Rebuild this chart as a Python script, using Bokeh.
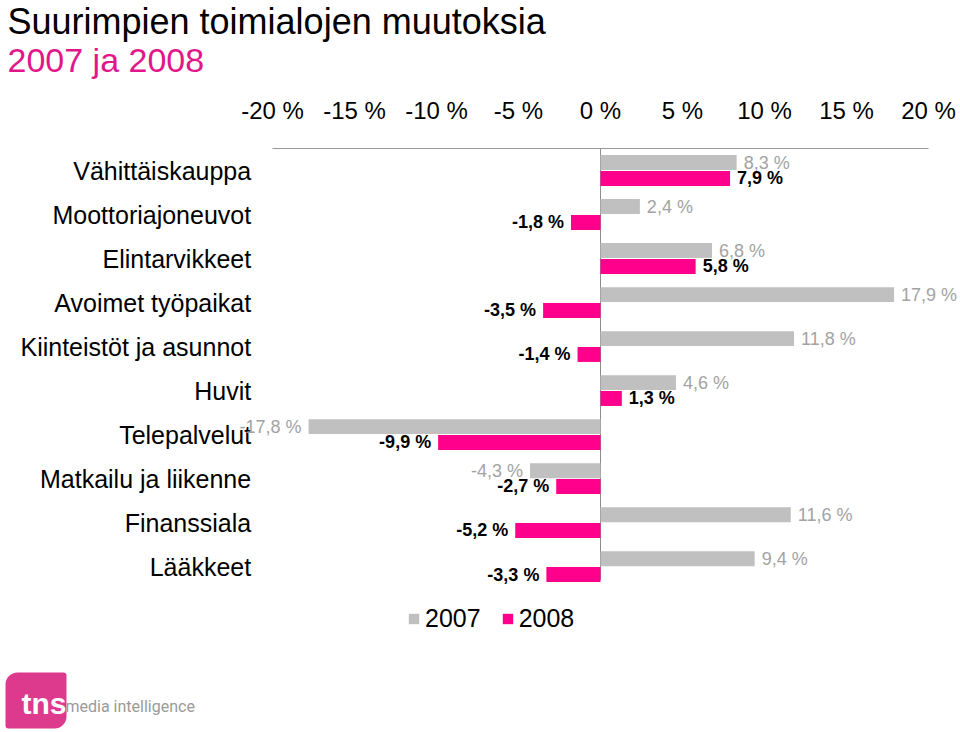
from bokeh.plotting import figure
from bokeh.layouts import column
from bokeh.models import (ColumnDataSource, FixedTicker, PrintfTickFormatter, Range1d,
                          Label, Legend, LegendItem)
from bokeh.core.properties import value
from bokeh.embed import file_html
from bokeh.resources import INLINE

# ---------------- data ----------------
categories = ["Vähittäiskauppa", "Moottoriajoneuvot", "Elintarvikkeet", "Avoimet työpaikat",
              "Kiinteistöt ja asunnot", "Huvit", "Telepalvelut", "Matkailu ja liikenne",
              "Finanssiala", "Lääkkeet"]
change_2007 = [8.3, 2.4, 6.8, 17.9, 11.8, 4.6, -17.8, -4.3, 11.6, 9.4]
change_2008 = [7.9, -1.8, 5.8, -3.5, -1.4, 1.3, -9.9, -2.7, -5.2, -3.3]
x_ticks = [-20, -15, -10, -5, 0, 5, 10, 15, 20]
series_names = ["2007", "2008"]
title_text = "Suurimpien toimialojen muutoksia"
subtitle_text = "2007 ja 2008"

GRAY = "#C0C0C0"
PINK = "#FF008C"
FONT = "Liberation Sans"
CAT_LABEL_X = -21.3   # where the category names end (data units)


def fmt(v):
    return f"{v:.1f}".replace(".", ",") + " %"


n = len(categories)
rows = list(range(n))
src = ColumnDataSource(dict(
    y07=[r - 0.18 for r in rows],
    y08=[r + 0.18 for r in rows],
    v07=change_2007,
    v08=change_2008,
    lab07=[fmt(v) for v in change_2007],
    lab08=[fmt(v) for v in change_2008],
    al07=["left" if v >= 0 else "right" for v in change_2007],
    al08=["left" if v >= 0 else "right" for v in change_2008],
    off07=[7 if v >= 0 else -7 for v in change_2007],
    off08=[7 if v >= 0 else -7 for v in change_2008],
))
cat_src = ColumnDataSource(dict(y=rows, name=categories, x=[CAT_LABEL_X] * n))

W = 960
H_TOP = 93
H_MAIN = 732 - H_TOP

# ---------- heading strip ----------
head = figure(width=W, height=H_TOP, output_backend="svg", toolbar_location=None,
              x_range=Range1d(0, W), y_range=Range1d(0, H_TOP),
              min_border_left=0, min_border_right=0, min_border_top=0, min_border_bottom=0,
              outline_line_color=None, background_fill_color="white", border_fill_color="white")
head.xaxis.visible = False
head.yaxis.visible = False
head.xgrid.visible = False
head.ygrid.visible = False
head.add_layout(Label(x=7, y=93, x_units="screen", y_units="screen", text=title_text,
                      text_font=FONT, text_font_size="36px", text_color="black",
                      text_align="left", text_baseline="top"))
head.add_layout(Label(x=7, y=53, x_units="screen", y_units="screen", text=subtitle_text,
                      text_font=FONT, text_font_size="34px", text_color="#E2168A",
                      text_align="left", text_baseline="top"))

# ---------- main chart ----------
p = figure(width=W, height=H_MAIN, output_backend="svg", toolbar_location=None,
           x_range=Range1d(-36.585, 21.95), y_range=Range1d(12.77, -0.5),
           x_axis_location="above",
           min_border_left=0, min_border_right=0, min_border_top=55, min_border_bottom=0,
           outline_line_color=None, background_fill_color="white", border_fill_color="white")

p.xgrid.visible = False
p.ygrid.visible = False
p.yaxis.visible = False

xa = p.xaxis[0]
xa.ticker = FixedTicker(ticks=x_ticks)
xa.formatter = PrintfTickFormatter(format="%d %%")
xa.bounds = (x_ticks[0], x_ticks[-1])
xa.axis_line_color = "#999999"
xa.major_tick_line_color = None
xa.minor_tick_line_color = None
xa.major_tick_out = 0
xa.major_tick_in = 0
xa.minor_tick_out = 0
xa.minor_tick_in = 0
xa.major_label_standoff = 25
xa.major_label_text_font = FONT
xa.major_label_text_font_size = "24px"
xa.major_label_text_color = "black"

# category names
p.text(x="x", y="y", text="name", source=cat_src, text_align="right",
       text_baseline="middle", text_font=value(FONT), text_font_size="25px",
       text_color="black")

# zero line
p.segment(x0=0, y0=-0.5, x1=0, y1=n - 0.7, line_color="#8C8C8C", line_width=1)

r07 = p.hbar(y="y07", left=0, right="v07", height=0.34, source=src,
             fill_color=GRAY, line_color=None)
r08 = p.hbar(y="y08", left=0, right="v08", height=0.34, source=src,
             fill_color=PINK, line_color=None)

p.text(x="v07", y="y07", text="lab07", x_offset="off07", text_align="al07",
       text_baseline="middle", text_font=value(FONT), text_font_size="18px",
       text_color="#A3A3A3", source=src)
p.text(x="v08", y="y08", text="lab08", x_offset="off08", text_align="al08",
       text_baseline="middle", text_font=value(FONT), text_font_size="18px",
       text_font_style="bold", text_color="black", source=src)

legend = Legend(items=[LegendItem(label=series_names[0], renderers=[r07]),
                       LegendItem(label=series_names[1], renderers=[r08])],
                orientation="horizontal", location=(407, 99),
                glyph_width=13, glyph_height=13, label_standoff=5, spacing=20,
                padding=0, border_line_color=None, background_fill_alpha=0,
                label_text_font=FONT, label_text_font_size="25px", label_text_color="black")
p.add_layout(legend)

# logo
p.add_layout(Label(x=5, y=60, x_units="screen", y_units="screen", text="tns",
                   text_font=FONT, text_font_size="30px", text_font_style="bold",
                   text_color="white", text_align="left", text_baseline="top",
                   background_fill_color="#DD3A8E",
                   padding=dict(left=16, right=0, top=14, bottom=9),
                   border_radius=dict(top_left=12, top_right=3, bottom_right=12, bottom_left=3)))
p.add_layout(Label(x=65, y=26, x_units="screen", y_units="screen", text="media intelligence",
                   text_font="Roboto", text_font_size="16px",
                   text_color="#9A9A9A", text_align="left", text_baseline="middle"))

layout = column(head, p, spacing=0)
open("out.html", "w").write(file_html(layout, INLINE))
